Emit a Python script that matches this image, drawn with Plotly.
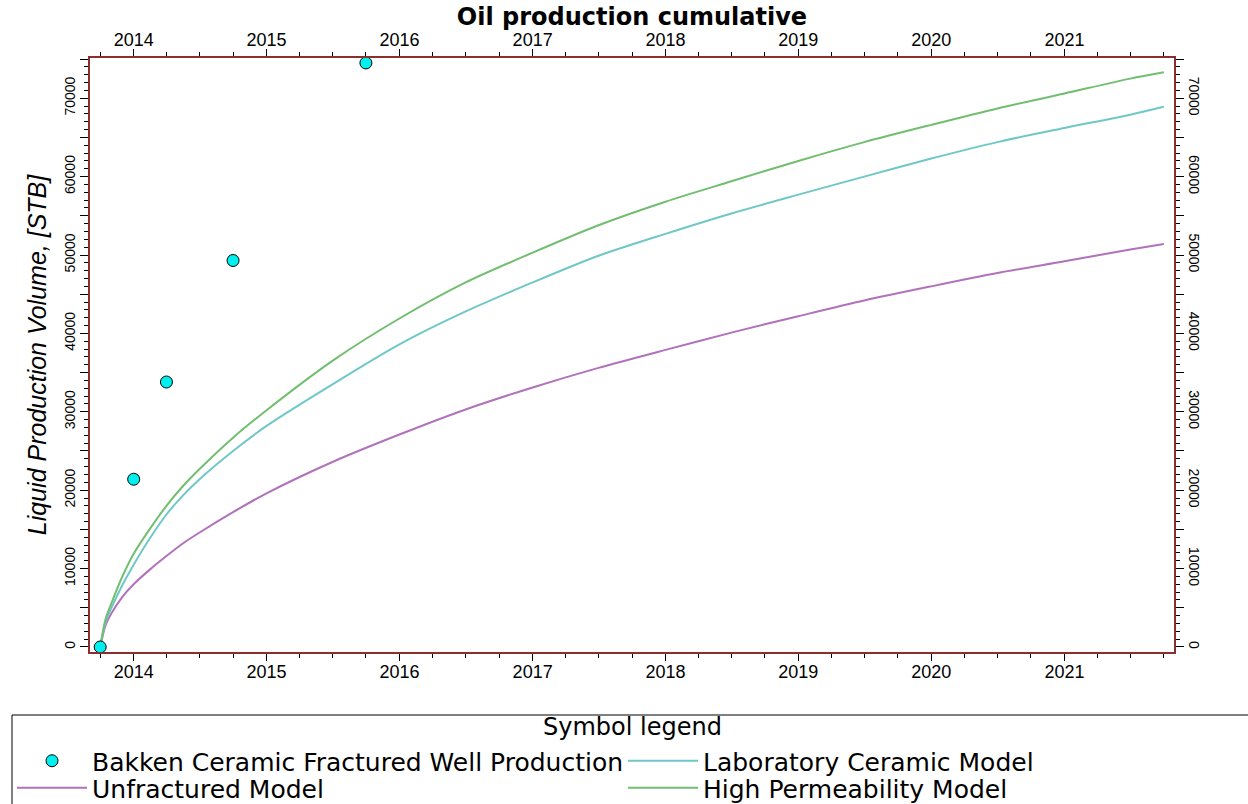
import plotly.graph_objects as go

# ---------------- data ----------------
model_dates = ["2013-10-01", "2013-10-16", "2013-11-01", "2013-12-01", "2014-01-01",
               "2014-02-15", "2014-04-01", "2014-05-16", "2014-07-01", "2014-10-01",
               "2015-01-01", "2015-07-01", "2016-01-01", "2016-07-01", "2017-01-01",
               "2017-07-01", "2018-01-01", "2018-07-01", "2019-01-01", "2019-07-01",
               "2020-01-01", "2020-07-01", "2021-01-01", "2021-07-01", "2021-10-01"]
high_perm = [0, 3600, 5600, 9000, 11900, 15100, 18000, 20500, 22700, 26700,
             30200, 36500, 41900, 46500, 50300, 53800, 56800, 59400, 62000, 64400,
             66600, 68700, 70600, 72500, 73300]
laboratory = [0, 3200, 5000, 7900, 10500, 13900, 16900, 19300, 21400, 25000,
              28200, 33500, 38600, 42800, 46500, 49900, 52700, 55300, 57700, 60000,
              62300, 64400, 66200, 67900, 68900]
unfractured = [0, 2800, 4300, 6400, 8000, 9900, 11600, 13200, 14600, 17200,
               19600, 23600, 27100, 30300, 33100, 35600, 37900, 40100, 42200, 44200,
               46000, 47700, 49200, 50700, 51400]
bakken_dates = ["2013-10-01", "2014-01-01", "2014-04-01", "2014-10-01", "2015-10-01"]
bakken_vals = [0, 21400, 33800, 49300, 74500]

x_range = ["2013-09-03", "2021-10-29"]
y_range = [-640, 75130]
y_tickvals = [0, 5000, 10000, 15000, 20000, 25000, 30000, 35000, 40000, 45000,
              50000, 55000, 60000, 65000, 70000, 75000]
y_ticktext = ["0", "", "10000", "", "20000", "", "30000", "", "40000", "",
              "50000", "", "60000", "", "70000", ""]

# ---------------- styles ----------------
AXIS_LINE = "#8a2f2f"
TICK_FONT_X = dict(family="Liberation Sans, Arial", size=18, color="black")
TICK_FONT_Y = dict(family="Liberation Sans, Arial", size=14, color="black")
LEGEND_FONT = dict(family="DejaVu Sans", size=25, color="black")
SPLINE = dict(width=2, shape="spline", smoothing=0.8)

W, H = 1248, 804
L, R, T, B = 90, 74, 58, 152
PW, PH = W - L - R, H - T - B


def px_x(px):
    return (px - L) / PW


def px_y(py):
    return (T + PH - py) / PH


fig = go.Figure()
fig.add_trace(go.Scatter(x=model_dates, y=unfractured, mode="lines", name="Unfractured Model",
                         line=dict(color="#b072bb", **SPLINE), legend="legend3"))
fig.add_trace(go.Scatter(x=model_dates, y=laboratory, mode="lines", name="Laboratory Ceramic Model",
                         line=dict(color="#6fc7c7", **SPLINE), legend="legend2"))
fig.add_trace(go.Scatter(x=model_dates, y=high_perm, mode="lines", name="High Permeability Model",
                         line=dict(color="#72be70", **SPLINE), legend="legend4"))
fig.add_trace(go.Scatter(x=bakken_dates, y=bakken_vals, mode="markers",
                         name="Bakken Ceramic Fractured Well Production",
                         xaxis="x2", yaxis="y2", legend="legend",
                         marker=dict(color="#00f0f0", size=12, symbol="circle",
                                     line=dict(color="black", width=1))))

xcommon = dict(type="date", range=x_range, dtick="M12", tick0="2014-01-01", tickformat="%Y",
               ticks="outside", ticklen=7, tickwidth=1, tickcolor="black",
               showline=True, linecolor=AXIS_LINE, linewidth=1.5, showgrid=False,
               zeroline=False, tickfont=TICK_FONT_X, ticklabelstandoff=-4,
               minor=dict(dtick="M3", tick0="2013-10-01", ticks="outside", ticklen=4,
                          tickcolor="black", showgrid=False))
ycommon = dict(range=y_range, tickmode="array", tickvals=y_tickvals, ticktext=y_ticktext,
               ticks="outside", ticklen=8, tickwidth=1,
               tickcolor="black", showline=True, linecolor=AXIS_LINE, linewidth=1.5,
               showgrid=False, zeroline=False, tickfont=TICK_FONT_Y,
               minor=dict(dtick=1000, tick0=0, ticks="outside", ticklen=4,
                          tickcolor="black", showgrid=False))

legend_common = dict(orientation="v", xref="paper", yref="paper", xanchor="left",
                     yanchor="top", bgcolor="rgba(0,0,0,0)", borderwidth=0,
                     font=LEGEND_FONT, itemwidth=70, tracegroupgap=0, traceorder="normal")

fig.update_layout(
    width=W, height=H,
    margin=dict(l=L, r=R, t=T, b=B, autoexpand=False),
    paper_bgcolor="white", plot_bgcolor="white",
    title=dict(text="<b>Oil production cumulative</b>", x=0.5, xref="paper", xanchor="center",
               y=1 - 17 / H, yref="container", yanchor="middle",
               font=dict(family="DejaVu Sans", size=24, color="black")),
    xaxis=dict(**xcommon, side="bottom", anchor="y"),
    xaxis2=dict(**xcommon, side="top", anchor="y2", overlaying="x", matches="x"),
    yaxis=dict(**ycommon, side="left", tickangle=-90, anchor="x",
               title=dict(text="<i>Liquid Production Volume, [STB]</i>", standoff=8,
                          font=dict(family="Liberation Sans, Arial", size=25, color="black"))),
    yaxis2=dict(**ycommon, side="right", tickangle=90, anchor="x2", overlaying="y", matches="y"),
    showlegend=True,
    legend=dict(**legend_common, x=px_x(12), y=px_y(738)),
    legend2=dict(**legend_common, x=px_x(623), y=px_y(738)),
    legend3=dict(**legend_common, x=px_x(12), y=px_y(765)),
    legend4=dict(**legend_common, x=px_x(623), y=px_y(765)),
    annotations=[dict(text="Symbol legend", xref="paper", yref="paper",
                      x=px_x(632), y=px_y(727), xanchor="center", yanchor="middle",
                      showarrow=False, font=dict(family="DejaVu Sans", size=24, color="black"))],
)

fig.add_shape(type="rect", xref="paper", yref="paper",
              x0=px_x(12), x1=px_x(1260), y0=px_y(715), y1=px_y(830),
              line=dict(color="black", width=1), fillcolor="rgba(0,0,0,0)", layer="above")

fig.write_html("out.html")
